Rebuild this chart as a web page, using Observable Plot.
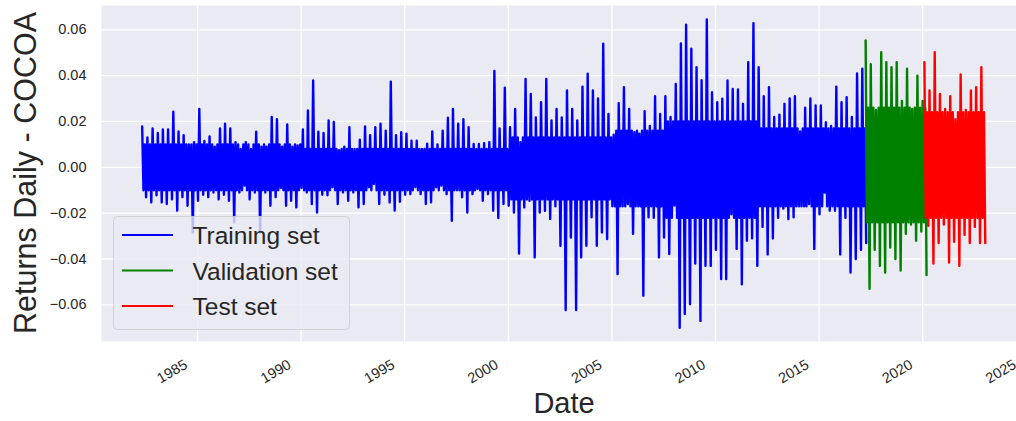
<!DOCTYPE html>
<html>
<head>
<meta charset="utf-8">
<script src="https://cdn.jsdelivr.net/npm/d3@7"></script>
<script src="https://cdn.jsdelivr.net/npm/@observablehq/plot@0.6"></script>
<style>
html, body { margin: 0; padding: 0; background: #fff; overflow: hidden; }
#chart { width: 1026px; }
#chart svg { overflow: visible; display: block; max-width: none !important; width: 1026px; height: 421px; }
</style>
</head>
<body>
<div id="chart"></div>
<script>
// ---- Data ----
// Quarterly envelope of the daily returns: highest and lowest value in each quarter.
const seriesNames = ["Training set", "Validation set", "Test set"];
const seriesColors = ["#0000ff", "#008000", "#ff0000"];

const trainStart = "1982-05-01";
const trainHi = [
  .0178,.013,.017,.015,.0165,.0165,.0243,.0156,.014,.010,
  .011,.0255,.0115,.0135,.009,.017,.019,.017,.011,.008,
  .011,.008,.0155,.009,.009,.022,.021,.009,.0187,.009,
  .0095,.0165,.0248,.0379,.0155,.015,.0204,.0198,.0075,.009,
  .0175,.008,.012,.0178,.014,.0175,.019,.016,.0374,.014,
  .0153,.0147,.0116,.0116,.008,.0103,.0157,.010,.016,.0216,
  .0255,.019,.021,.0175,.0102,.0102,.0105,.011,.042,.017,
  .0347,.0175,.0255,.011,.0386,.032,.0218,.0284,.0386,.0205,
  .0255,.0218,.0335,.0255,.0205,.0352,.0408,.0335,.030,.0539,
  .0233,.0142,.028,.035,.0255,.0153,.0147,.0245,.018,.031,
  .0233,.031,.022,.0364,.054,.0622,.0517,.0437,.038,.0645,
  .0328,.0284,.0299,.0379,.0342,.034,.0277,.0459,.0629,.0437,
  .031,.035,.022,.023,.0277,.030,.031,.0157,.026,.030,
  .027,.027,.0197,.018,.0352,.0284,.0306,.022,.041,.043
];
const trainLo = [
  -.0131,-.0153,-.0122,-.0153,-.016,-.014,-.0189,-.013,-.0168,-.0284,
  -.0146,-.012,-.013,-.011,-.014,-.012,-.0146,-.024,-.011,-.008,
  -.014,-.011,-.0284,-.011,-.0168,-.013,-.009,-.0168,-.0146,-.0175,
  -.009,-.011,-.016,-.0197,-.012,-.0122,-.0087,-.016,-.011,-.0146,
  -.011,-.0175,-.016,-.0087,-.0073,-.016,-.012,-.0153,-.0189,-.015,
  -.012,-.0117,-.0087,-.0117,-.016,-.0153,-.0087,-.008,-.0117,-.0233,
  -.010,-.0131,-.0197,-.0117,-.0095,-.0146,-.0117,-.0189,-.0221,-.016,
  -.0168,-.0197,-.0376,-.0175,-.0146,-.0393,-.0197,-.019,-.0225,-.017,
  -.0342,-.0623,-.0306,-.0623,-.0393,-.0342,-.0218,-.0342,-.0284,-.0313,
  -.017,-.0466,-.017,-.016,-.029,-.017,-.056,-.0218,-.022,-.0393,
  -.0306,-.0378,-.0167,-.070,-.064,-.0597,-.042,-.067,-.043,-.043,
  -.036,-.0487,-.0487,-.0205,-.0356,-.051,-.032,-.031,-.043,-.026,
  -.038,-.031,-.022,-.018,-.0226,-.0218,-.017,-.017,-.016,-.0356,
  -.0205,-.011,-.0189,-.0189,-.038,-.022,-.0459,-.040,-.036,-.033
];

const valStart = "2017-04-01";
const valHi = [.0553,.045,.025,.0502,.0459,.0437,.0459,.029,.043,.0255,.040,.029];
const valLo = [-.053,-.036,-.043,-.0459,-.035,-.040,-.045,-.029,-.025,-.032,-.028,-.047];

const testStart = "2020-02-01";
const testHi = [.0459,.0335,.0502,.032,.0255,.031,.021,.0405,.025,.0335,.035,.0437];
const testLo = [-.0255,-.042,-.033,-.025,-.0415,-.0325,-.043,-.0295,-.033,-.026,-.033,-.033];

// Band that the daily returns fill almost every day (the solid core), per period
const coreFrom = ["1982-01-01","1990-01-01","2000-01-01","2005-01-01","2007-07-01","2012-01-01","2017-04-01","2020-02-01"];
const coreHi = [.010,.008,.013,.016,.020,.017,.026,.024];
const coreLo = [-.010,-.010,-.014,-.017,-.022,-.017,-.024,-.022];

const yTicks = [-0.06,-0.04,-0.02,0,0.02,0.04,0.06];
const xTickYears = [1985,1990,1995,2000,2005,2010,2015,2020,2025];
const xDomain = ["1980-05-14","2025-01-05"];
const yDomain = [-0.076, 0.0706];
const yTitle = "Returns Daily - COCOA";
const xTitle = "Date";

// ---- Build the table: each quarter reaches its high, crosses the core band, reaches its low ----
const parse = d3.utcParse("%Y-%m-%d");
const coreDates = coreFrom.map(parse);
function buildSeries(name, start, hi, lo) {
  const t0 = parse(start);
  const rows = [];
  hi.forEach((h, i) => {
    const t = d3.utcMonth.offset(t0, 3 * i);
    const k = Math.max(0, d3.bisectRight(coreDates, t) - 1);
    rows.push({series: name, date: t, value: h});
    rows.push({series: name, date: d3.utcDay.offset(t, 23), value: coreLo[k]});
    rows.push({series: name, date: d3.utcDay.offset(t, 46), value: coreHi[k]});
    rows.push({series: name, date: d3.utcDay.offset(t, 69), value: lo[i]});
  });
  return rows;
}
const rows = [
  ...buildSeries(seriesNames[0], trainStart, trainHi, trainLo),
  ...buildSeries(seriesNames[1], valStart, valHi, valLo),
  ...buildSeries(seriesNames[2], testStart, testHi, testLo)
];
const xTickDates = xTickYears.map(y => new Date(Date.UTC(y, 0, 1)));
const dom = xDomain.map(parse);

const ink = "#262626";
const chart = Plot.plot({
  width: 1026,
  height: 421,
  marginLeft: 101,
  marginRight: 0,
  marginTop: 5,
  marginBottom: 80,
  style: {fontFamily: "'Liberation Sans', Arial, sans-serif", background: "white", overflow: "visible", maxWidth: "none"},
  x: {type: "utc", domain: dom, axis: null},
  y: {domain: yDomain, axis: null},
  color: {domain: seriesNames, range: seriesColors},
  marks: [
    Plot.frame({fill: "#eaeaf2", stroke: "none"}),
    Plot.gridY(yTicks, {stroke: "white", strokeOpacity: 1, strokeWidth: 1.3}),
    Plot.gridX(xTickDates.filter(d => d <= dom[1]), {stroke: "white", strokeOpacity: 1, strokeWidth: 1.3}),
    Plot.lineY(rows, {x: "date", y: "value", z: "series", stroke: "series", strokeWidth: 2.4}),
    Plot.text(yTicks, {y: d => d, frameAnchor: "left", dx: -15, textAnchor: "end",
      text: d3.format(".2f"), fontSize: 14.5, fill: ink}),
    Plot.text(xTickDates, {x: d => d, frameAnchor: "bottom", rotate: -30, textAnchor: "end",
      lineAnchor: "bottom", dx: -9, dy: 26, fontSize: 14.5, fill: ink,
      text: d => String(d.getUTCFullYear())}),
    Plot.text([xTitle], {frameAnchor: "bottom", dy: 71, lineAnchor: "bottom", fontSize: 29, fill: ink})
  ]
});
document.getElementById("chart").appendChild(chart);

const svg = d3.select(chart);
// ---- Y axis title (rotated) ----
svg.append("text")
  .attr("transform", "translate(36,173) rotate(-90)")
  .attr("text-anchor", "middle")
  .attr("font-size", 30.5)
  .attr("fill", ink)
  .text(yTitle);

// ---- Legend (matplotlib-style, lower left) ----
const lg = svg.append("g");
lg.append("rect").attr("x", 113.5).attr("y", 216.5).attr("width", 236).attr("height", 113)
  .attr("rx", 4).attr("fill", "#eaeaf2").attr("fill-opacity", 0.8)
  .attr("stroke", "#cccccc").attr("stroke-opacity", 0.8);
seriesNames.forEach((n, i) => {
  const y = 235 + i * 35.5;
  lg.append("line").attr("x1", 122).attr("x2", 173).attr("y1", y).attr("y2", y)
    .attr("stroke", seriesColors[i]).attr("stroke-width", 2);
  lg.append("text").attr("x", 192.5).attr("y", y + 9).attr("font-size", 24.5)
    .attr("text-anchor", "start").attr("fill", ink).text(n);
});
</script>
</body>
</html>
